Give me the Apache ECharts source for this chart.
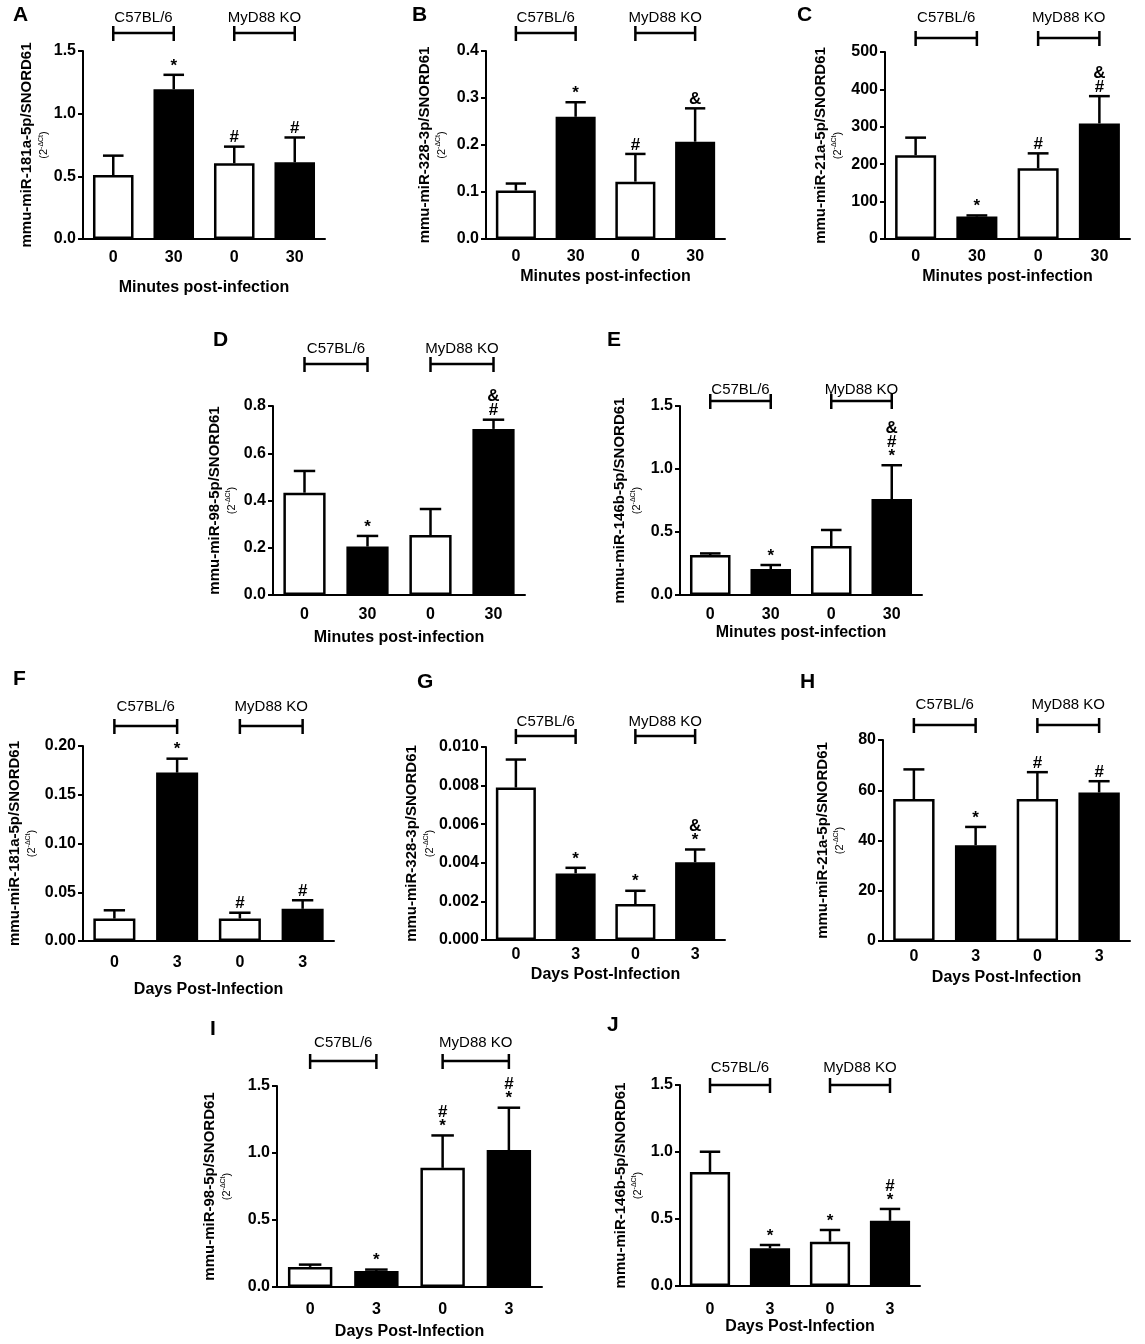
<!DOCTYPE html>
<html>
<head>
<meta charset="utf-8">
<title>miRNA expression, C57BL/6 vs MyD88 KO</title>
<script src="https://cdn.jsdelivr.net/npm/echarts/dist/echarts.min.js"></script>
<style>
  html, body { margin: 0; padding: 0; background: #fff; }
  #chart { width: 1145px; height: 1344px; }
</style>
</head>
<body>
<div id="chart"></div>
<script>
const FONT = '"Liberation Sans", Arial, Helvetica, sans-serif';

// ---- data ----
const letters = ['A', 'B', 'C', 'D', 'E', 'F', 'G', 'H', 'I', 'J'];
const yTitles = [
  'mmu-miR-181a-5p/SNORD61', 'mmu-miR-328-3p/SNORD61', 'mmu-miR-21a-5p/SNORD61',
  'mmu-miR-98-5p/SNORD61', 'mmu-miR-146b-5p/SNORD61',
  'mmu-miR-181a-5p/SNORD61', 'mmu-miR-328-3p/SNORD61', 'mmu-miR-21a-5p/SNORD61',
  'mmu-miR-98-5p/SNORD61', 'mmu-miR-146b-5p/SNORD61'
];
const xTitleMinutes = 'Minutes post-infection';
const xTitleDays = 'Days Post-Infection';
const catMinutes = ['0', '30', '0', '30'];
const catDays = ['0', '3', '0', '3'];
const strains = ['C57BL/6', 'MyD88 KO'];
const strainSpans = [[0, 1], [2, 3]];

// mean and top of the error bar (mean + SEM)
const meanA = [0.51, 1.195, 0.604, 0.612];
const topA  = [0.665, 1.31, 0.737, 0.81];
const markA = ['', '*', '#', '#'];

const meanB = [0.103, 0.26, 0.122, 0.207];
const topB  = [0.118, 0.291, 0.181, 0.278];
const markB = ['', '*', '#', '&'];

const meanC = [224, 60, 189, 309];
const topC  = [271, 63, 229, 382];
const markC = ['', '*', '#', '&\n#'];

const meanD = [0.433, 0.205, 0.254, 0.703];
const topD  = [0.525, 0.25, 0.364, 0.742];
const markD = ['', '*', '', '&\n#'];

const meanE = [0.317, 0.206, 0.389, 0.762];
const topE  = [0.33, 0.238, 0.516, 1.03];
const markE = ['', '*', '', '&\n#\n*'];

const meanF = [0.023, 0.1727, 0.023, 0.033];
const topF  = [0.0315, 0.187, 0.029, 0.0418];
const markF = ['', '*', '#', '#'];

const meanG = [0.0079, 0.00345, 0.00186, 0.00403];
const topG  = [0.00935, 0.00374, 0.00255, 0.00469];
const markG = ['', '*', '*', '&\n*'];

const meanH = [56.5, 38.1, 56.5, 59.1];
const topH  = [68.3, 45.4, 67.2, 63.6];
const markH = ['', '*', '#', '#'];

const meanI = [0.15, 0.12, 0.889, 1.022];
const topI  = [0.167, 0.13, 1.131, 1.338];
const markI = ['', '*', '#\n*', '#\n*'];

const meanJ = [0.851, 0.281, 0.331, 0.487];
const topJ  = [1.002, 0.306, 0.418, 0.575];
const markJ = ['', '*', '*', '#\n*'];

const yMax      = [1.5, 0.4, 500, 0.8, 1.5, 0.2, 0.010, 80, 1.5, 1.5];
const yStep     = [0.5, 0.1, 100, 0.2, 0.5, 0.05, 0.002, 20, 0.5, 0.5];
const yDecimals = [1, 1, 0, 1, 1, 2, 3, 0, 1, 1];

const means = [meanA, meanB, meanC, meanD, meanE, meanF, meanG, meanH, meanI, meanJ];
const tops  = [topA, topB, topC, topD, topE, topF, topG, topH, topI, topJ];
const marks = [markA, markB, markC, markD, markE, markF, markG, markH, markI, markJ];

// ---- layout (pixels) ----
const fills = ['#fff', '#000', '#fff', '#000'];
const layout = [
  { grid: [83, 51, 242, 188],   letter: [13, 17],    bracketGap: 18, labelGap: 15, yNameGap: 28, xMargin: 11, xNameGap: 41 },
  { grid: [486, 51, 239, 188],  letter: [412, 17],   bracketGap: 18, labelGap: 15, yNameGap: 37, xMargin: 10, xNameGap: 30 },
  { grid: [885, 52, 245, 187],  letter: [797, 17],   bracketGap: 14, labelGap: 20, yNameGap: 40, xMargin: 10, xNameGap: 30 },
  { grid: [273, 406, 252, 189], letter: [213, 342],  bracketGap: 42, labelGap: 15, yNameGap: 34, xMargin: 12, xNameGap: 35 },
  { grid: [680, 406, 242, 189], letter: [607, 342],  bracketGap: 5,  labelGap: 11, yNameGap: 36, xMargin: 12, xNameGap: 30 },
  { grid: [83, 746, 251, 195],  letter: [13, 681],   bracketGap: 20, labelGap: 19, yNameGap: 44, xMargin: 14, xNameGap: 41 },
  { grid: [486, 747, 239, 193], letter: [417, 684],  bracketGap: 11, labelGap: 14, yNameGap: 49, xMargin: 7,  xNameGap: 27 },
  { grid: [883, 740, 247, 201], letter: [800, 684],  bracketGap: 15, labelGap: 20, yNameGap: 36, xMargin: 8,  xNameGap: 29 },
  { grid: [277, 1086, 265, 201], letter: [210, 1031], bracketGap: 25, labelGap: 18, yNameGap: 43, xMargin: 15, xNameGap: 37 },
  { grid: [680, 1085, 240, 201], letter: [607, 1027], bracketGap: 0,  labelGap: 17, yNameGap: 35, xMargin: 16, xNameGap: 31 }
];

const black = '#000';

function line(x1, y1, x2, y2, w) {
  return { type: 'line', shape: { x1: x1, y1: y1, x2: x2, y2: y2 },
           style: { stroke: black, lineWidth: w } };
}

// upper error bar + significance marks
function makeErrorBar(p) {
  return function (params, api) {
    const x = api.value(0);
    const lo = api.coord([x, api.value(1)]);
    const hi = api.coord([x, api.value(2)]);
    const half = api.size([1, 0])[0] * 0.17;
    const children = [
      line(lo[0], lo[1], hi[0], hi[1], 2.5),
      line(hi[0] - half, hi[1], hi[0] + half, hi[1], 2.5)
    ];
    const m = marks[p][params.dataIndex];
    if (m) {
      children.push({
        type: 'text',
        style: { text: m, x: hi[0], y: hi[1] - 2, align: 'center', verticalAlign: 'bottom',
                 font: 'bold 17px ' + FONT, lineHeight: 14, fill: black }
      });
    }
    return { type: 'group', children: children };
  };
}

// strain brackets above each panel
function makeBracket(p) {
  return function (params, api) {
    const a = api.coord([api.value(0), 0])[0];
    const b = api.coord([api.value(1), 0])[0];
    const y = params.coordSys.y - layout[p].bracketGap;
    return {
      type: 'group',
      children: [
        line(a, y, b, y, 2.5),
        line(a, y - 7, a, y + 8, 2.5),
        line(b, y - 7, b, y + 8, 2.5),
        { type: 'text',
          style: { text: strains[params.dataIndex], x: (a + b) / 2, y: y - layout[p].labelGap,
                   align: 'center', verticalAlign: 'middle', font: '15px ' + FONT, fill: black } }
      ]
    };
  };
}

const option = {
  animation: false,
  backgroundColor: '#fff',
  title: [], grid: [], xAxis: [], yAxis: [], series: []
};

letters.forEach(function (letter, i) {
  const L = layout[i];
  option.title.push({
    text: letter, left: L.letter[0], top: L.letter[1] - 12, padding: 0,
    textStyle: { fontFamily: FONT, fontSize: 21, fontWeight: 'bold', color: black }
  });
  option.grid.push({
    left: L.grid[0], top: L.grid[1], width: L.grid[2], height: L.grid[3],
    containLabel: false, outerBoundsMode: 'none'
  });
  option.xAxis.push({
    type: 'category', gridIndex: i, data: i < 5 ? catMinutes : catDays,
    axisLine: { lineStyle: { color: black, width: 2 } },
    axisTick: { alignWithLabel: true, length: 5, lineStyle: { color: black, width: 2 } },
    axisLabel: { color: black, fontFamily: FONT, fontWeight: 'bold', fontSize: 16, margin: L.xMargin },
    name: i < 5 ? xTitleMinutes : xTitleDays,
    nameLocation: 'middle', nameGap: L.xNameGap,
    nameTextStyle: { color: black, fontFamily: FONT, fontWeight: 'bold', fontSize: 16 }
  });
  option.yAxis.push({
    type: 'value', gridIndex: i, min: 0, max: yMax[i], interval: yStep[i],
    axisLine: { show: true, lineStyle: { color: black, width: 2 } },
    axisTick: { show: true, length: 5, lineStyle: { color: black, width: 2 } },
    splitLine: { show: false },
    axisLabel: {
      color: black, fontFamily: FONT, fontWeight: 'bold', fontSize: 16, margin: 7,
      formatter: function (v) { return v.toFixed(yDecimals[i]); }
    },
    name: '{t|' + yTitles[i] + '}\n{s|(2}{u|-ΔCt}{s|)}',
    nameLocation: 'middle', nameRotate: 90, nameGap: L.yNameGap,
    nameTextStyle: {
      color: black, fontFamily: FONT,
      rich: {
        t: { fontFamily: FONT, fontSize: 15, fontWeight: 'bold', color: black, lineHeight: 21 },
        s: { fontFamily: FONT, fontSize: 11, color: black, lineHeight: 14 },
        u: { fontFamily: FONT, fontSize: 7, color: black, lineHeight: 9, verticalAlign: 'top' }
      }
    }
  });
  option.series.push({
    type: 'bar', xAxisIndex: i, yAxisIndex: i, barWidth: '67%', silent: true,
    itemStyle: { borderColor: black, borderWidth: 2.5 },
    data: means[i].map(function (v, k) { return { value: v, itemStyle: { color: fills[k] } }; })
  });
  option.series.push({
    type: 'custom', xAxisIndex: i, yAxisIndex: i, silent: true, clip: false, z: 3,
    encode: { x: 0, y: [1, 2] },
    renderItem: makeErrorBar(i),
    data: means[i].map(function (v, k) { return [k, v, tops[i][k]]; })
  });
  option.series.push({
    type: 'custom', xAxisIndex: i, yAxisIndex: i, silent: true, clip: false, z: 3,
    encode: { x: [0, 1] },
    renderItem: makeBracket(i),
    data: strainSpans
  });
});

const chart = echarts.init(document.getElementById('chart'), null, { renderer: 'canvas' });
chart.setOption(option);
</script>
</body>
</html>
